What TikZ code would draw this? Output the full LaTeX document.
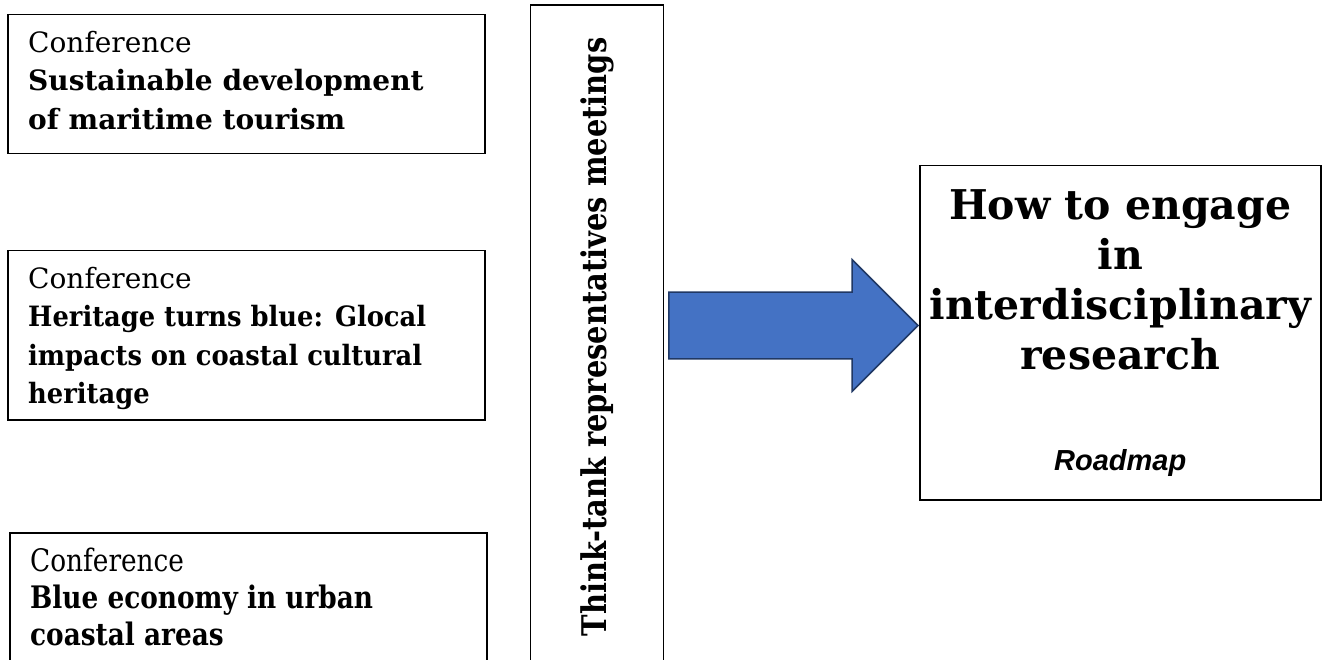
\documentclass[tikz,border=0pt]{standalone}
\usepackage{fontspec}
\setmainfont{DejaVu Serif}
\newfontfamily\midfont[FakeStretch=0.92]{DejaVu Serif}
\newfontfamily\narrowfont[FakeStretch=0.85]{DejaVu Serif}
\newfontfamily\roadfont{Liberation Sans}
\usetikzlibrary{shapes.arrows, positioning}

\definecolor{arrowblue}{HTML}{4472C4}
\definecolor{arrowedge}{HTML}{203864}

\tikzset{
  box/.style={draw, line width=1.5pt, inner sep=0pt, anchor=north west},
  conf/.style={anchor=north west, align=left, inner sep=0pt, font=\fontsize{28}{38.5}\selectfont},
  narrowconf/.style={conf, font=\narrowfont\fontsize{31}{37}\selectfont},
  bigarrow/.style={single arrow, draw=arrowedge, fill=arrowblue, line width=1.5pt,
    inner xsep=0pt, inner ysep=32.5pt, minimum height=249pt, minimum width=130pt,
    single arrow head extend=32.5pt},
}

\begin{document}
\begin{tikzpicture}[x=1pt, y=-1pt]
	\useasboundingbox (0,0) rectangle (1322,660);

	% Conferences
	\node[box, minimum width=477pt, minimum height=139pt] (conf1) at (7,14) {};
	\node[conf, below right=17pt and 21pt of conf1.north west] (conf1text)
		{Conference\\\textbf{Sustainable development}\\\textbf{of maritime tourism}};

	\node[box, minimum width=477pt, minimum height=169pt] (conf2) at (7,250) {};
	\node[conf, below right=17pt and 21pt of conf2.north west] (conf2text)
		{Conference\\{\midfont\bfseries Heritage turns blue: Glocal}\\
		{\midfont\bfseries impacts on coastal cultural}\\{\midfont\bfseries heritage}};

	\node[box, minimum width=477pt, minimum height=170pt] (conf3) at (9,532) {};
	\node[narrowconf, below right=16pt and 21pt of conf3.north west] (conf3text)
		{Conference\\\textbf{Blue economy in urban}\\\textbf{coastal areas}};

	% Think-tank column
	\node[box, anchor=center, rotate=90, minimum width=664pt, minimum height=133pt,
		font=\narrowfont\bfseries\fontsize{34}{34}\selectfont] (think) at (597,337)
		{Think-tank representatives meetings};

	% Roadmap
	\node[box, minimum width=401pt, minimum height=334pt] (goal) at (919,165) {};
	\node[anchor=north, align=center, inner sep=0pt, below=24pt of goal.north,
		font=\bfseries\fontsize{41}{50}\selectfont] (goaltext)
		{How to engage\\in\\interdisciplinary\\research};
	\node[inner sep=0pt, above=24pt of goal.south,
		font=\roadfont\bfseries\itshape\fontsize{29}{29}\selectfont] (roadlabel) {Roadmap};

	% Arrow to the roadmap
	\node[bigarrow, anchor=tip] (flow) at (goal.west |- 0,325.5) {};
\end{tikzpicture}
\end{document}
